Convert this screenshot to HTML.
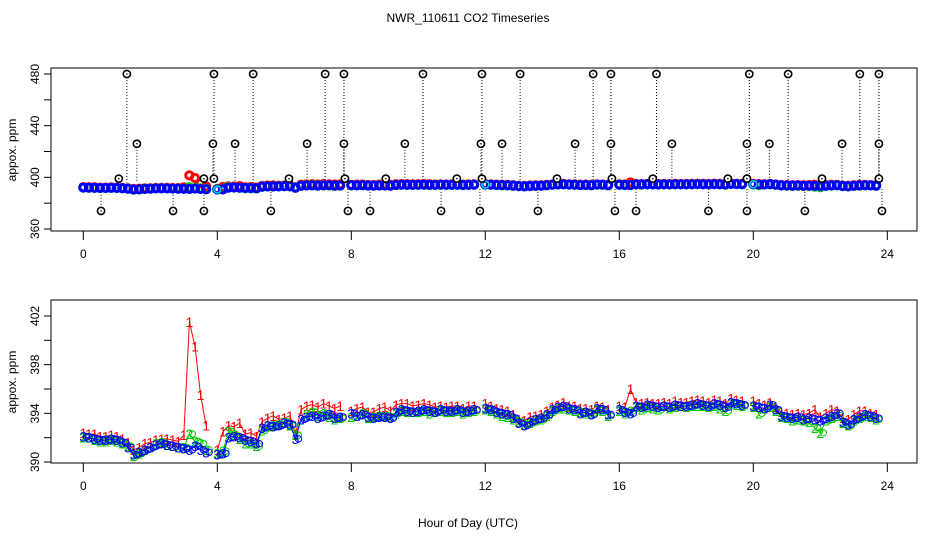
<!DOCTYPE html>
<html><head><meta charset="utf-8"><style>
html,body{margin:0;padding:0;background:#fff;}
svg{display:block;font-family:"Liberation Sans",sans-serif;}
</style></head><body>
<svg id="c" width="936" height="540" viewBox="0 0 936 540">
<text x="468" y="22" text-anchor="middle" font-size="12">NWR_110611  CO2 Timeseries</text>
<text x="468" y="527" text-anchor="middle" font-size="12">Hour of Day (UTC)</text>
<text transform="translate(16,150) rotate(-90)" text-anchor="middle" font-size="12">appox. ppm</text>
<text transform="translate(16,382) rotate(-90)" text-anchor="middle" font-size="12">appox. ppm</text>
<rect x="51" y="68" width="866" height="163" fill="none" stroke="#000"/>
<rect x="51" y="300" width="866" height="163" fill="none" stroke="#000"/>
<g id="topPanel"></g><g id="botPanel"></g><g id="axesGroup"></g>
</svg>
<script>
const red = [392.4,392.3,392.3,392.1,392.1,392.2, 392.1,391.9,391.6,391.0,391.2,391.5, 391.6,391.8,391.9,391.9,391.8,391.7, 392.2,401.5,399.5,395.5,393.0,null, 391.0,392.5,393.0,392.9,393.2,392.3, 392.4,392.1,393.3,393.6,393.8,393.5, 393.6,393.8,392.3,394.3,394.6,394.7, 394.5,394.8,394.6,394.4,394.6,null, 394.2,394.4,394.5,394.1,394.1,394.4, 394.5,394.2,394.7,394.8,394.8,394.6, 394.7,394.8,394.7,394.5,394.6,394.5, 394.6,394.6,394.4,394.6,394.6,null, 394.8,394.6,394.4,394.3,394.2,393.9, 393.5,393.4,393.7,393.8,393.9,394.2, 394.5,394.7,394.9,394.6,394.6,394.4, 394.4,394.3,394.6,394.5,394.3,null, 394.6,394.5,396.0,394.9,394.8,394.9, 394.8,394.8,394.9,394.8,395.0,394.9, 394.9,395.0,395.1,395.0,394.9,395.1, 395.0,394.8,395.2,395.1,395.0,null, 395.0,394.8,394.7,394.9,394.5,394.1, 394.0,393.9,394.0,393.9,394.0,394.3, 393.7,394.0,394.3,394.2,393.6,393.5, 393.9,394.2,394.2,394.0,393.9,null];
const green = [392.0,392.0,391.8,391.7,391.7,391.8, 391.7,391.5,391.3,390.5,390.7,391.0, 391.2,391.5,391.6,391.4,391.3,391.2, 391.2,392.3,391.7,391.5,391.0,null, 390.7,390.9,392.5,392.2,391.9,391.5, 391.5,391.3,392.6,392.9,393.0,393.1, 393.3,393.0,392.2,393.5,393.9,394.1, 393.8,394.0,393.7,393.5,393.6,null, 393.7,393.8,394.0,393.6,393.7,393.8, 393.8,393.7,394.0,394.2,394.1,394.1, 394.1,394.2,394.0,394.1,394.2,394.1, 394.1,394.2,394.0,394.1,394.2,null, 394.3,394.2,394.0,393.8,393.7,393.5, 393.3,393.1,393.2,393.4,393.5,393.8, 394.2,394.4,394.4,394.3,394.2,394.1, 394.0,394.0,394.3,394.2,393.8,null, 394.2,394.0,394.2,394.5,394.3,394.5, 394.4,394.3,394.6,394.4,394.5,394.6, 394.5,394.6,394.6,394.6,394.5,394.6, 394.4,394.2,394.8,394.7,394.6,null, 394.5,394.0,394.4,394.5,394.2,393.7, 393.6,393.4,393.5,393.4,393.3,392.8, 392.4,393.4,393.6,393.8,393.2,393.0, 393.4,393.6,393.8,393.7,393.5,null];
const blue = [392.1,392.0,391.9,391.8,391.8,391.9, 391.8,391.6,391.2,390.6,390.8,391.0, 391.2,391.4,391.5,391.4,391.3,391.2, 391.1,391.0,391.3,391.0,390.8,null, 390.6,390.7,392.0,392.1,392.0,391.8, 391.7,391.5,392.8,393.0,392.9,393.0, 393.2,393.1,391.9,393.5,393.7,393.8, 393.6,393.8,393.9,393.6,393.7,null, 394.0,393.8,393.9,393.7,393.6,393.7, 393.7,393.6,394.1,394.3,394.2,394.1, 394.2,394.3,394.2,394.1,394.3,394.2, 394.2,394.3,394.1,394.2,394.3,null, 394.4,394.3,394.1,394.0,393.9,393.6, 393.2,393.0,393.3,393.5,393.6,393.9, 394.3,394.5,394.6,394.4,394.3,394.0, 394.1,393.9,394.4,394.3,393.9,null, 394.3,394.1,394.0,394.6,394.5,394.7, 394.6,394.5,394.6,394.5,394.7,394.6, 394.6,394.7,394.8,394.7,394.6,394.8, 394.7,394.5,394.9,394.8,394.7,null, 394.6,394.5,394.4,394.7,394.3,393.8, 393.7,393.6,393.7,393.5,393.6,393.5, 393.4,393.6,393.8,394.0,393.3,393.1, 393.5,393.7,393.9,393.8,393.6,null];
const hours = blue.map((_, i) => i / 6);
const spikeHours = [1.30,3.90,5.07,7.22,7.78,10.14,11.90,13.04,15.22,15.75,17.11,19.88,21.04,23.18,23.75,
 1.60,3.87,4.53,6.68,7.78,9.60,11.87,12.50,14.68,15.75,17.57,19.81,20.48,22.65,23.75,
 1.06,3.60,3.90,6.14,7.81,9.03,11.15,11.90,14.14,15.78,17.00,19.24,19.81,22.05,23.75,
 0.53,2.68,3.60,5.60,7.90,8.56,10.68,11.84,13.57,15.87,16.50,18.66,19.81,21.54,23.84];
const spikeValues = [480,480,480,480,480,480,480,480,480,480,480,480,480,480,480,
 426,426,426,426,426,426,426,426,426,426,426,426,426,426,426,
 399,399,399,399,399,399,399,399,399,399,399,399,399,399,399,
 374,374,374,374,374,374,374,374,374,374,374,374,374,374,374];
const xTicks = [0,4,8,12,16,20,24];
const topYTicks = [360,380,400,420,440,460,480];
const topYLabels = ["360","","400","","440","","480"];
const botYTicks = [390,392,394,396,398,400,402];
const botYLabels = ["390","","394","","398","","402"];

const NS = "http://www.w3.org/2000/svg";
const X = h => 83.3 + h * 33.5;
const YT = v => 229 - (v - 360) * 155 / 120;
const YB = v => 462 - (v - 390) * 12.17;
function mk(parent, tag, attrs) {
  const e = document.createElementNS(NS, tag);
  for (const k in attrs) e.setAttribute(k, attrs[k]);
  parent.appendChild(e); return e;
}
const gTop = document.getElementById('topPanel');
const gBot = document.getElementById('botPanel');
const gAxes = document.getElementById('axesGroup');

spikeHours.forEach((h, i) => {
  const v = spikeValues[i];
  const base = v > 394 ? YT(396) : YT(391);
  const ln = mk(gTop, 'line', {x1: X(h), x2: X(h), y1: YT(v), y2: base, stroke: '#000', 'stroke-dasharray': '1,2', 'stroke-width': 1});
  
  
});
[[red, '#f00'], [green, '#0c0'], [blue, '#00f']].forEach(([arr, col]) => {
  arr.forEach((v, i) => {
    if (v == null) return;
    const c = mk(gTop, 'circle', {cx: X(hours[i]), cy: YT(v), r: 3.6, fill: 'none', stroke: col, 'stroke-width': 3});
    
    
  });
});
[24, 72, 120].forEach(i => {
  const c = mk(gTop, 'circle', {cx: X(hours[i]), cy: YT(blue[i]), r: 3.5, fill: 'none', stroke: '#0dd', 'stroke-width': 1.5});
  
  
});
spikeHours.forEach((h, i) => {
  const c = mk(gTop, 'circle', {cx: X(h), cy: YT(spikeValues[i]), r: 3.6, fill: '#fff', stroke: '#000', 'stroke-width': 1.6});
  
  
  const d = mk(gTop, 'circle', {cx: X(h), cy: YT(spikeValues[i]), r: 0.8, fill: '#000'});
  
  
});

[[red, '#f00', '1'], [green, '#0c0', '2'], [blue, '#00f', '3']].forEach(([arr, col, lab]) => {
  let d = '', pen = false;
  arr.forEach((v, i) => {
    if (v == null) { pen = false; return; }
    d += (pen ? 'L' : 'M') + X(hours[i]).toFixed(1) + ',' + YB(v).toFixed(1);
    pen = true;
  });
  const p = mk(gBot, 'path', {d: d, fill: 'none', stroke: col, 'stroke-width': 1});
  
  
  arr.forEach((v, i) => {
    if (v == null) return;
    if (lab !== '1') {
      const c = mk(gBot, 'circle', {cx: X(hours[i]) + 3, cy: YB(v), r: 3.2, fill: 'none', stroke: col, 'stroke-width': 1});
      
      
    }
    const t = mk(gBot, 'text', {x: X(hours[i]), y: YB(v) + 5, 'font-size': 14, fill: col, 'text-anchor': 'middle'});
    t.textContent = lab;
    
    
  });
});

[[231, 240, 258], [463, 472, 490]].forEach(([y0, y1, ly]) => {
  const a = mk(gAxes, 'line', {x1: X(xTicks[0]), x2: X(xTicks[xTicks.length - 1]), y1: y0, y2: y0, stroke: '#000'});
  
  
  xTicks.forEach(t => {
    const l = mk(gAxes, 'line', {x1: X(t), x2: X(t), y1: y0, y2: y1, stroke: '#000'});
    
    
    const tx = mk(gAxes, 'text', {x: X(t), y: ly, 'font-size': 12, 'text-anchor': 'middle'});
    tx.textContent = String(t);
    
    
  });
});
[[topYTicks, topYLabels, YT], [botYTicks, botYLabels, YB]].forEach(([ticks, labs, Y]) => {
  ticks.forEach((t, i) => {
    const l = mk(gAxes, 'line', {x1: 44, x2: 51, y1: Y(t), y2: Y(t), stroke: '#000'});
    
    
    if (labs[i]) {
      const tx = mk(gAxes, 'text', {transform: 'translate(39,' + Y(t) + ') rotate(-90)', 'font-size': 12, 'text-anchor': 'middle'});
      tx.textContent = labs[i];
      
      
    }
  });
});
</script>
</body></html>
